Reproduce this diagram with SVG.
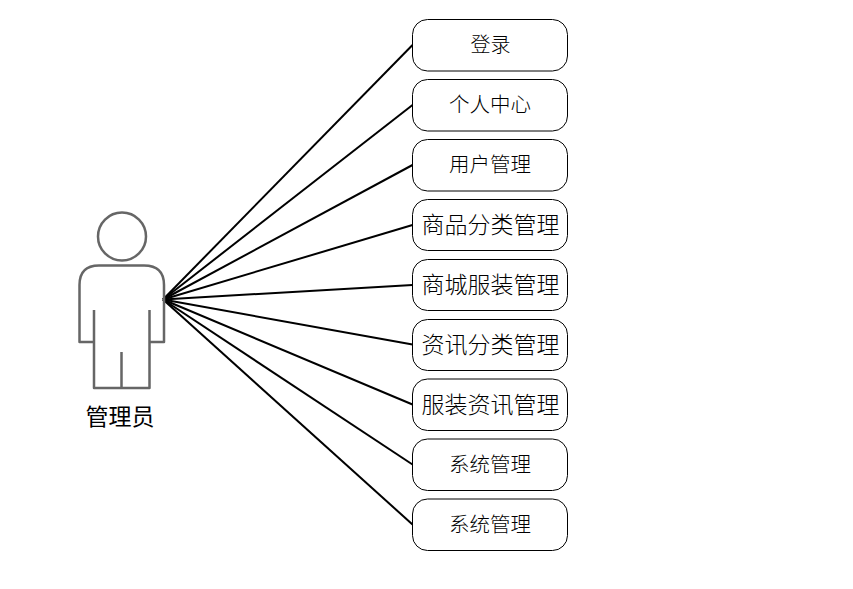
<svg xmlns="http://www.w3.org/2000/svg" width="853" height="589" viewBox="0 0 853 589">
<style>
.bg{fill:#fff}
.box{fill:#fff;stroke:#000;stroke-width:1}
.t{font-family:"Noto Sans CJK SC",sans-serif;fill:#000;text-anchor:middle;dominant-baseline:central}
.l{font-weight:300}
.a{fill:none;stroke:#666;stroke-width:2.5;stroke-linejoin:round}
.c{stroke:#000;stroke-width:2;fill:none}
</style>
<rect class="bg" width="853" height="589"/>
<g id="connectors">
<line class="c" x1="163" y1="299.500" x2="412.500" y2="45"/>
<line class="c" x1="163" y1="299.500" x2="412.500" y2="105"/>
<line class="c" x1="163" y1="299.500" x2="412.500" y2="165"/>
<line class="c" x1="163" y1="299.500" x2="412.500" y2="225"/>
<line class="c" x1="163" y1="299.500" x2="412.500" y2="285"/>
<line class="c" x1="163" y1="299.500" x2="412.500" y2="344.500"/>
<line class="c" x1="163" y1="299.500" x2="412.500" y2="404.500"/>
<line class="c" x1="163" y1="299.500" x2="412.500" y2="464.500"/>
<line class="c" x1="163" y1="299.500" x2="412.500" y2="524.500"/>
</g>
<g id="actor">
<circle class="a" cx="122" cy="236.500" r="24"/>
<path class="a" d="M94 310V342H79.500V285Q79.500 265.500 99 265.500H144Q164 265.500 164 285V342H149.500V310M149.500 342V388H94V342M121.500 352V388"/>
<text class="t" x="120" y="414.500" font-size="23">管理员</text>
</g>
<g id="n1"><rect class="box" x="412.500" y="19.500" width="155" height="51.500" rx="15"/><text class="t l" x="490.500" y="43" font-size="20">登录</text></g>
<g id="n2"><rect class="box" x="412.500" y="79.500" width="155" height="51.500" rx="15"/><text class="t l" x="490" y="103" font-size="20.500">个人中心</text></g>
<g id="n3"><rect class="box" x="412.500" y="139.500" width="155" height="51.500" rx="15"/><text class="t l" x="490" y="163" font-size="20.500">用户管理</text></g>
<g id="n4"><rect class="box" x="412.500" y="199.500" width="155" height="51" rx="15"/><text class="t l" x="490.500" y="222.500" font-size="23">商品分类管理</text></g>
<g id="n5"><rect class="box" x="412.500" y="259.500" width="155" height="51" rx="15"/><text class="t l" x="490.500" y="282.500" font-size="23">商城服装管理</text></g>
<g id="n6"><rect class="box" x="412.500" y="319.500" width="155" height="51" rx="15"/><text class="t l" x="490.500" y="342.500" font-size="23">资讯分类管理</text></g>
<g id="n7"><rect class="box" x="412.500" y="379" width="155" height="51.500" rx="15"/><text class="t l" x="490.500" y="402.500" font-size="23">服装资讯管理</text></g>
<g id="n8"><rect class="box" x="412.500" y="439" width="155" height="51.500" rx="15"/><text class="t l" x="490" y="462.500" font-size="20.500">系统管理</text></g>
<g id="n9"><rect class="box" x="412.500" y="499" width="155" height="51.500" rx="15"/><text class="t l" x="490" y="522.500" font-size="20.500">系统管理</text></g>
</svg>
